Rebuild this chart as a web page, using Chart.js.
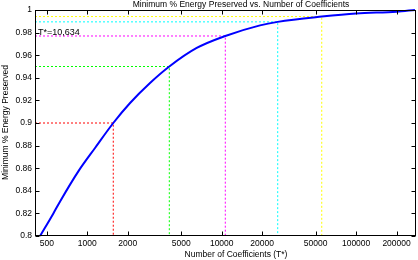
<!DOCTYPE html>
<html><head><meta charset="utf-8">
<script src="https://cdn.jsdelivr.net/npm/chart.js@4"></script>
<style>html,body{margin:0;padding:0;background:#fff}</style>
</head><body><canvas id="c" width="418" height="260"></canvas>
<script>
// ---- data ----
const coeffs = [445, 559, 627, 857, 1141, 1560, 2080, 2928, 4074, 6516, 10634, 19280, 26100, 55500, 100000, 200000, 274000];
const energy = [0.800, 0.820, 0.8306, 0.8572, 0.8779, 0.900, 0.9177, 0.9354, 0.950, 0.9664, 0.977, 0.9864, 0.9895, 0.9942, 0.997, 0.9985, 1.0];
const refT      = [1560, 4074, 10634, 26100, 55500];
const refLevel  = [0.900, 0.950, 0.977, 0.9895, 0.9942];
const refColors = ['#ff0000', '#00ff00', '#ff00ff', '#00ffff', '#ffff00'];
const xTicks = [500, 1000, 2000, 5000, 10000, 20000, 50000, 100000, 200000];
const xTickLabels = ['500', '1000', '2000', '5000', '10000', '20000', '50000', '100000', '200000'];
const yTicks = [0.8, 0.82, 0.84, 0.86, 0.88, 0.9, 0.92, 0.94, 0.96, 0.98, 1];
const xMin = 408, xMax = 279000, yMin = 0.8, yMax = 1;
const titleText = 'Minimum % Energy Preserved vs. Number of Coefficients';
const xTitle = 'Number of Coefficients (T*)';
const yTitle = 'Minimum % Energy Preserved';
const annText = 'T*=10,634';

const FONT = '"Liberation Sans", Arial, Helvetica, sans-serif';

const datasets = [{
  data: coeffs.map((t, i) => ({x: t, y: energy[i]})),
  borderColor: '#0000ff', borderWidth: 2, pointRadius: 0,
  cubicInterpolationMode: 'monotone', order: 0, clip: 2
}];
refT.forEach((t, i) => {
  datasets.push({
    data: [{x: xMin, y: refLevel[i]}, {x: t, y: refLevel[i]}, {x: t, y: yMin}],
    borderColor: refColors[i], borderWidth: 1, borderDash: [2, 2], pointRadius: 0, tension: 0, order: 1
  });
});

const frame = {
  id: 'frame',
  afterDraw(chart) {
    const ctx = chart.ctx, a = chart.chartArea;
    const xs = chart.scales.x, ys = chart.scales.y;
    ctx.save();
    ctx.setLineDash([]);
    ctx.strokeStyle = '#000'; ctx.lineWidth = 1;
    const L = Math.round(a.left) + 0.5, R = Math.round(a.right) - 0.5;
    const T = Math.round(a.top) + 0.5, B = Math.round(a.bottom) - 0.5;
    ctx.strokeRect(L, T, R - L, B - T);
    ctx.beginPath();
    xTicks.forEach(v => {
      const p = Math.round(xs.getPixelForValue(v)) + 0.5;
      ctx.moveTo(p, B); ctx.lineTo(p, B - 4);
      ctx.moveTo(p, T); ctx.lineTo(p, T + 4);
    });
    yTicks.forEach(v => {
      const p = Math.round(ys.getPixelForValue(v)) + 0.5;
      ctx.moveTo(L, p); ctx.lineTo(L + 4, p);
      ctx.moveTo(R, p); ctx.lineTo(R - 4, p);
    });
    ctx.stroke();
    ctx.restore();
    // x tick labels
    ctx.save();
    ctx.fillStyle = '#000';
    ctx.font = '8.5px ' + FONT;
    ctx.textAlign = 'left'; ctx.textBaseline = 'alphabetic';
    xTicks.forEach((v, i) => {
      const w = ctx.measureText(xTickLabels[i]).width;
      ctx.fillText(xTickLabels[i], xs.getPixelForValue(v) - w / 2, a.bottom + 10);
    });
    ctx.restore();
    // titles
    ctx.save();
    ctx.fillStyle = '#000';
    ctx.font = '8.5px ' + FONT;
    ctx.textAlign = 'center'; ctx.textBaseline = 'alphabetic';
    ctx.fillText(titleText, 241, 7);
    ctx.textBaseline = 'middle';
    ctx.fillText(xTitle, 236, 255);
    ctx.save();
    ctx.translate(5.5, 122.5); ctx.rotate(-Math.PI / 2);
    ctx.fillText(yTitle, 0, 0);
    ctx.restore();
    ctx.font = '9px ' + FONT;
    ctx.textAlign = 'left';
    ctx.fillText(annText, a.left + 3, ys.getPixelForValue(0.98));
    ctx.restore();
  }
};

new Chart(document.getElementById('c'), {
  type: 'line',
  data: {datasets},
  options: {
    responsive: false, animation: false, devicePixelRatio: 1,
    layout: {padding: {top: 10, right: 2, left: 0, bottom: 0}},
    plugins: {legend: {display: false}, title: {display: false}, tooltip: {enabled: false}},
    scales: {
      x: {
        type: 'logarithmic', min: xMin, max: xMax,
        grid: {display: false, drawTicks: false}, border: {display: false},
        afterFit: s => { s.height = 24; },
        ticks: {display: false}
      },
      y: {
        type: 'linear', min: yMin, max: yMax,
        grid: {display: false, drawTicks: false}, border: {display: false},
        afterBuildTicks: s => { s.ticks = yTicks.map(v => ({value: v})); },
        afterFit: s => { s.width = 35; },
        ticks: {padding: 3, color: '#000', font: {family: FONT, size: 8.5},
          callback: v => String(Number(v.toFixed(2)))}
      }
    }
  },
  plugins: [frame]
});
</script></body></html>
